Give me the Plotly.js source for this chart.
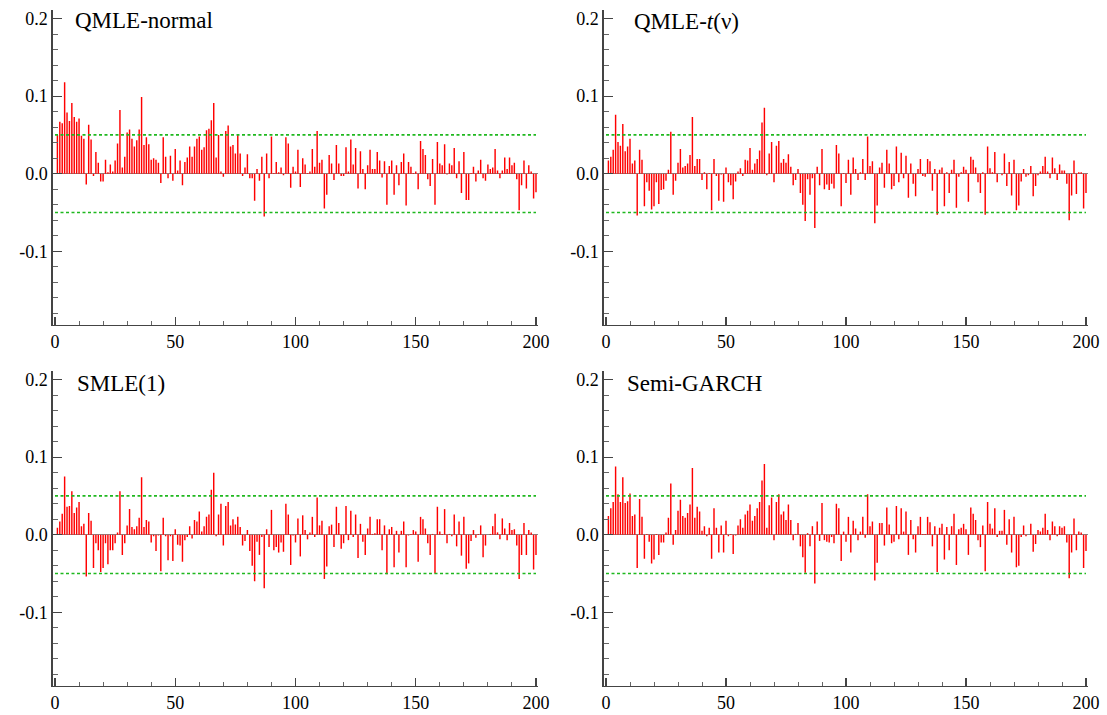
<!DOCTYPE html>
<html><head><meta charset="utf-8">
<script src="https://cdn.plot.ly/plotly-3.0.1.min.js"></script>
<style>html,body{margin:0;padding:0;background:#fff}#chart{width:1107px;height:715px}</style>
</head><body><div id="chart"></div>
<script>
const panelTitles = ['QMLE-normal', 'QMLE-<i>t</i>(\u03bd)', 'SMLE(1)', 'Semi-GARCH'];

const qmleNormal = [0.050,0.067,0.065,0.118,0.079,0.068,0.091,0.073,0.067,0.071,
0.049,0.045,-0.014,0.063,0.044,-0.003,0.028,0.014,-0.010,-0.010,
0.018,0.002,0.012,0.003,0.017,0.039,0.082,0.008,0.022,0.053,
0.057,0.045,0.035,0.043,0.057,0.099,0.037,0.047,0.038,0.018,
0.020,0.018,0.014,-0.012,0.047,0.022,-0.006,0.023,-0.009,0.032,
0.004,0.017,-0.015,0.015,0.021,0.035,0.022,0.035,0.045,0.048,
0.031,0.034,0.056,0.058,0.069,0.091,0.021,0.050,0.003,-0.004,
0.055,0.062,0.035,0.037,0.026,0.050,0.026,-0.003,0.008,0.025,
-0.006,-0.006,-0.035,0.006,-0.009,0.022,-0.055,0.026,-0.006,0.048,
0.001,0.015,0.002,0.008,-0.002,0.047,0.039,-0.018,0.009,0.003,
0.031,-0.017,0.020,0.012,0.001,0.003,0.032,0.009,0.055,0.014,
0.018,-0.045,-0.027,0.024,0.013,-0.008,0.037,0.013,-0.003,-0.003,
0.034,0.003,0.044,0.012,0.033,-0.019,0.029,0.006,-0.020,0.011,
0.031,0.006,0.006,0.028,0.017,-0.005,0.016,-0.040,0.010,0.017,
-0.027,0.011,-0.015,0.015,0.026,-0.041,0.015,0.009,0.001,0.003,
-0.020,0.042,0.032,0.024,-0.007,-0.016,0.019,-0.040,0.041,0.013,
0.011,0.038,-0.001,0.013,0.011,0.033,-0.006,0.016,-0.025,0.028,
-0.034,-0.034,0.001,0.009,-0.010,0.004,0.018,-0.006,-0.009,0.012,
0.006,0.008,0.032,0.004,-0.006,0.004,0.021,0.006,0.021,0.011,
0.014,-0.007,-0.047,-0.015,0.017,-0.019,0.011,0.003,-0.032,-0.024];

const qmleT = [0.017,0.022,0.031,0.076,0.041,0.036,0.064,0.029,0.035,0.045,
0.013,0.017,-0.054,0.031,0.018,-0.042,-0.011,-0.022,-0.046,-0.042,
-0.011,-0.039,-0.021,-0.020,-0.009,0.005,0.054,-0.027,-0.009,0.014,
0.032,0.008,0.010,0.013,0.024,0.073,0.010,0.019,0.019,-0.008,
0.002,-0.020,0.001,-0.047,0.019,-0.003,-0.035,-0.001,-0.036,0.008,
-0.011,-0.015,-0.033,-0.010,0.003,0.007,-0.003,0.018,0.017,0.033,
0.005,0.013,0.019,0.030,0.066,0.085,-0.002,0.026,0.041,-0.011,
0.036,0.042,0.014,0.019,0.014,0.025,0.009,-0.015,-0.008,0.006,
-0.025,-0.040,-0.061,-0.007,-0.027,-0.006,-0.070,0.009,-0.015,0.032,
-0.020,-0.014,-0.021,-0.013,-0.019,0.037,0.026,-0.042,0.001,-0.012,
0.018,-0.027,0.021,0.006,-0.008,0.002,0.019,-0.008,0.048,0.010,
0.016,-0.064,-0.041,0.008,0.014,-0.018,0.031,0.013,-0.020,-0.016,
0.035,-0.011,0.027,-0.006,0.023,-0.031,0.013,-0.013,-0.029,0.006,
0.019,-0.003,-0.004,0.019,0.016,-0.022,0.006,-0.053,0.005,0.008,
-0.042,0.002,-0.025,0.005,0.018,-0.044,-0.004,0.002,0.009,0.005,
-0.036,0.022,0.018,0.008,-0.011,-0.025,0.002,-0.053,0.035,0.007,
0.002,0.028,-0.011,0.000,-0.002,0.026,-0.016,0.015,-0.028,0.018,
-0.047,-0.041,-0.010,0.006,-0.004,-0.002,0.010,-0.029,-0.016,-0.002,
0.003,0.010,0.022,0.003,-0.006,0.021,0.007,-0.008,0.012,0.004,
0.004,-0.013,-0.060,-0.028,0.017,-0.026,0.002,0.002,-0.045,-0.025];

const smle1 = [0.009,0.017,0.027,0.075,0.036,0.037,0.056,0.028,0.035,0.042,
0.011,0.014,-0.054,0.028,0.018,-0.043,-0.011,-0.020,-0.048,-0.043,
-0.011,-0.038,-0.020,-0.020,-0.011,0.003,0.056,-0.026,-0.011,0.012,
0.033,0.010,0.007,0.011,0.022,0.074,0.010,0.019,0.017,-0.010,
-0.002,-0.021,-0.001,-0.047,0.022,-0.002,-0.033,-0.002,-0.034,0.007,
-0.013,-0.014,-0.035,-0.007,-0.003,0.011,-0.005,0.019,0.017,0.030,
0.004,0.011,0.023,0.026,0.058,0.080,-0.002,0.026,0.040,-0.014,
0.037,0.042,0.012,0.020,0.013,0.023,0.010,-0.014,-0.008,0.006,
-0.021,-0.040,-0.060,-0.009,-0.026,-0.003,-0.069,0.007,-0.016,0.032,
-0.020,-0.016,-0.023,-0.010,-0.022,0.040,0.026,-0.039,-0.001,-0.010,
0.021,-0.028,0.025,0.006,-0.006,0.003,0.023,-0.003,0.048,0.012,
0.018,-0.057,-0.041,0.011,0.013,-0.016,0.036,0.015,-0.018,-0.011,
0.037,-0.007,0.031,-0.003,0.026,-0.030,0.014,-0.009,-0.026,0.008,
0.023,0.001,0.002,0.020,0.020,-0.020,0.012,-0.051,0.007,0.010,
-0.042,0.005,-0.023,0.005,0.017,-0.042,-0.001,0.001,0.006,0.004,
-0.035,0.023,0.020,0.008,-0.011,-0.026,0.001,-0.050,0.036,0.004,
0.001,0.033,-0.011,0.001,-0.002,0.026,-0.015,0.017,-0.027,0.023,
-0.044,-0.037,-0.008,0.006,-0.004,0.001,0.012,-0.029,-0.014,0.000,
0.001,0.011,0.027,0.003,-0.006,0.021,0.008,-0.007,0.015,0.006,
0.007,-0.014,-0.057,-0.026,0.015,-0.026,0.006,0.003,-0.045,-0.026];

const semiGarch = [0.024,0.034,0.042,0.088,0.052,0.042,0.074,0.041,0.043,0.053,
0.024,0.026,-0.043,0.046,0.023,-0.031,0.001,-0.009,-0.037,-0.032,
0.001,-0.026,-0.010,-0.010,0.003,0.022,0.066,-0.013,0.006,0.031,
0.045,0.024,0.022,0.028,0.039,0.086,0.022,0.036,0.030,0.005,
0.011,-0.002,0.009,-0.031,0.034,0.009,-0.023,0.012,-0.023,0.018,
-0.002,0.001,-0.025,-0.001,0.012,0.020,0.009,0.026,0.031,0.039,
0.018,0.024,0.034,0.042,0.070,0.091,0.009,0.038,0.048,-0.007,
0.042,0.052,0.026,0.030,0.019,0.039,0.019,-0.007,0.001,0.015,
-0.015,-0.029,-0.049,0.002,-0.015,0.011,-0.063,0.017,-0.008,0.041,
-0.007,-0.009,-0.010,-0.003,-0.011,0.040,0.034,-0.034,0.004,-0.009,
0.023,-0.023,0.018,0.008,-0.007,0.004,0.023,-0.004,0.052,0.011,
0.017,-0.059,-0.036,0.015,0.015,-0.014,0.035,0.013,-0.011,-0.009,
0.037,-0.006,0.034,0.004,0.030,-0.026,0.019,-0.006,-0.023,0.011,
0.023,0.001,0.001,0.023,0.016,-0.015,0.011,-0.048,0.009,0.014,
-0.032,0.010,-0.020,0.011,0.027,-0.039,0.007,0.009,0.014,0.007,
-0.026,0.035,0.027,0.019,-0.007,-0.016,0.012,-0.047,0.042,0.014,
0.008,0.034,-0.003,0.005,0.005,0.032,-0.013,0.020,-0.023,0.023,
-0.042,-0.040,-0.003,0.012,-0.002,0.000,0.014,-0.022,-0.012,0.006,
0.004,0.009,0.027,0.006,-0.007,0.017,0.011,-0.002,0.011,0.009,
0.011,-0.010,-0.056,-0.023,0.021,-0.020,0.004,0.003,-0.043,-0.021];

const bandLevel = 0.05;
const lagRange = [0, 200];
const xTickVals = [0, 50, 100, 150, 200];
const yTickVals = [-0.1, 0, 0.1, 0.2];
const yTickText = ['-0.1', '0.0', '0.1', '0.2'];

const series = [qmleNormal, qmleT, smle1, semiGarch];
const W = 1107, H = 715;
const colPx = [[52.6, 538.4], [603.6, 1088.4]];
const rowPx = [[10, 325], [371, 686]];
const titlePx = [[73, 20], [632, 21], [75, 383], [625, 383]];
const serif = 'Liberation Serif, Times New Roman, serif';

const traces = [];
const layout = {
  width: W, height: H,
  margin: {l: 0, r: 0, t: 0, b: 0},
  paper_bgcolor: '#fff', plot_bgcolor: '#fff',
  showlegend: false,
  font: {family: serif, color: '#000'},
  annotations: []
};

series.forEach((vals, i) => {
  const ax = i === 0 ? '' : String(i + 1);
  const col = i % 2, row = Math.floor(i / 2);
  const lags = vals.map((_, j) => j + 1);
  traces.push({
    type: 'bar', x: lags, y: vals, xaxis: 'x' + ax, yaxis: 'y' + ax,
    width: 0.6, marker: {color: '#ff0000', line: {width: 0}},
    hoverinfo: 'skip'
  });
  [bandLevel, -bandLevel].forEach(b => traces.push({
    type: 'scatter', mode: 'lines', x: lagRange, y: [b, b],
    xaxis: 'x' + ax, yaxis: 'y' + ax,
    line: {color: '#1fb81f', width: 1.6, dash: '3px,2.5px'},
    hoverinfo: 'skip'
  }));
  const xd = [colPx[col][0] / W, colPx[col][1] / W];
  const yd = [1 - rowPx[row][1] / H, 1 - rowPx[row][0] / H];
  layout['xaxis' + ax] = {
    domain: xd, range: [-1, 201], anchor: 'y' + ax,
    showline: true, linecolor: '#444', linewidth: 1.2,
    ticks: 'inside', ticklen: 8, tickwidth: 1.2, tickcolor: '#444',
    tickmode: 'array', tickvals: xTickVals,
    minor: {ticks: 'inside', ticklen: 4, tickwidth: 1, tickcolor: '#666', tick0: 0, dtick: 10, showgrid: false},
    showgrid: false, zeroline: false,
    tickfont: {family: serif, size: 18, color: '#000'}
  };
  layout['yaxis' + ax] = {
    domain: yd, range: [-0.195, 0.211], anchor: 'x' + ax,
    showline: true, linecolor: '#444', linewidth: 1.2,
    ticks: 'inside', ticklen: 9, tickwidth: 1.2, tickcolor: '#444',
    tickmode: 'array', tickvals: yTickVals, ticktext: yTickText,
    minor: {ticks: 'inside', ticklen: 5, tickwidth: 1, tickcolor: '#666', tick0: 0, dtick: 0.02, showgrid: false},
    showgrid: false, zeroline: true, zerolinecolor: '#888', zerolinewidth: 1.2,
    tickfont: {family: serif, size: 18, color: '#000'}
  };
  layout.annotations.push({
    xref: 'paper', yref: 'paper',
    x: titlePx[i][0] / W, y: 1 - titlePx[i][1] / H,
    xanchor: 'left', yanchor: 'middle', showarrow: false,
    text: panelTitles[i],
    font: {family: serif, size: 23, color: '#000'}
  });
});

Plotly.newPlot('chart', traces, layout, {displayModeBar: false, staticPlot: true});
</script>
</body></html>
